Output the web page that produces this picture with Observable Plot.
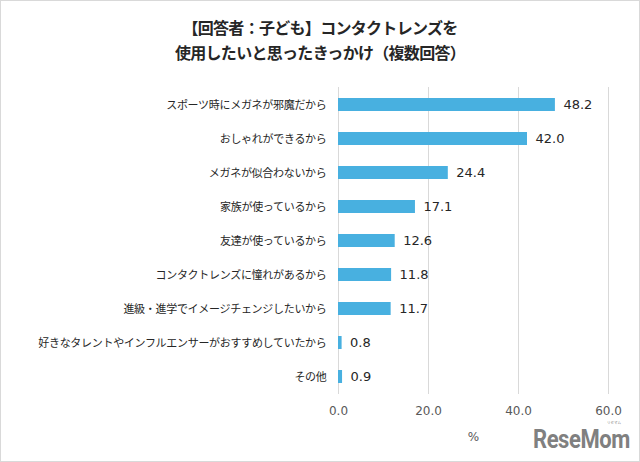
<!DOCTYPE html>
<html>
<head>
<meta charset="utf-8">
<script src="https://cdn.jsdelivr.net/npm/d3@7"></script>
<script src="https://cdn.jsdelivr.net/npm/@observablehq/plot@0.6"></script>
<style>
  html, body { margin: 0; padding: 0; background: #fff; }
  #wrap { position: relative; width: 640px; height: 462px; background: #fff; overflow: hidden; }
  #frame { position: absolute; left: 0; top: 0; width: 640px; height: 462px; box-sizing: border-box; border: 1px solid #d9d9d9; pointer-events: none; }
  #title { height: 70px; box-sizing: border-box; padding-top: 15px; text-align: center;
    font-family: "Noto Sans CJK JP", sans-serif; font-weight: bold; font-size: 16px; line-height: 25px;
    color: #262626; letter-spacing: -0.7px; }
  #chart svg { display: block; }
  #chart g[aria-label="y-axis tick label"] text { letter-spacing: -0.3px; }
  #logo { position: absolute; left: 533px; top: 430px; font-family: Roboto, sans-serif; font-weight: bold;
    font-size: 25px; line-height: 20px; height: 20px; color: #808080; letter-spacing: -0.5px;
    transform: scaleX(0.88); transform-origin: left top; white-space: nowrap; }
  #logo-kana { position: absolute; left: 607px; top: 420.5px; font-family: "Noto Sans CJK JP", sans-serif;
    font-size: 3.5px; line-height: 4px; color: #808080; white-space: nowrap; }
</style>
</head>
<body>
<div id="wrap">
  <div id="title">【回答者：子ども】コンタクトレンズを<br>使用したいと思ったきっかけ（複数回答）</div>
  <div id="chart"></div>
  <div id="logo">ReseMom</div>
  <div id="logo-kana">リセマム</div>
  <div id="frame"></div>
</div>
<script>
const categories = [
  "スポーツ時にメガネが邪魔だから",
  "おしゃれができるから",
  "メガネが似合わないから",
  "家族が使っているから",
  "友達が使っているから",
  "コンタクトレンズに憧れがあるから",
  "進級・進学でイメージチェンジしたいから",
  "好きなタレントやインフルエンサーがおすすめしていたから",
  "その他"
];
const values = [48.2, 42.0, 24.4, 17.1, 12.6, 11.8, 11.7, 0.8, 0.9];
const xTicks = [0, 20, 40, 60];
const xLabel = "%";

const data = categories.map((c, i) => ({category: c, value: values[i]}));
const numFont = "'DejaVu Sans', Verdana, sans-serif";

const chart = Plot.plot({
  width: 640,
  height: 392,
  marginTop: 17,
  marginBottom: 68,
  marginLeft: 338,
  marginRight: 32,
  style: {fontFamily: "'Noto Sans CJK JP', sans-serif", background: "white", color: "#333"},
  x: {domain: [0, 60]},
  y: {domain: categories, paddingInner: 0.63, paddingOuter: 0.315},
  marks: [
    Plot.gridX(xTicks, {stroke: "#d9d9d9", strokeOpacity: 1, strokeWidth: 1}),
    Plot.barX(data, {x: "value", y: "category", fill: "#48b0e0"}),
    Plot.text(data, {x: "value", y: "category", text: d => d.value.toFixed(1), dx: 8,
      textAnchor: "start", fontSize: 13, fill: "#262626", fontFamily: numFont}),
    Plot.axisX({ticks: xTicks, tickFormat: d => d.toFixed(1), tickSize: 0, tickPadding: 12,
      fontSize: 12, fontFamily: numFont, color: "#595959",
      label: xLabel, labelAnchor: "center", labelOffset: 46, labelArrow: "none"}),
    Plot.axisY({tickSize: 0, tickPadding: 12, fontSize: 11, label: null, color: "#262626"})
  ]
});
document.getElementById("chart").appendChild(chart);
</script>
</body>
</html>
